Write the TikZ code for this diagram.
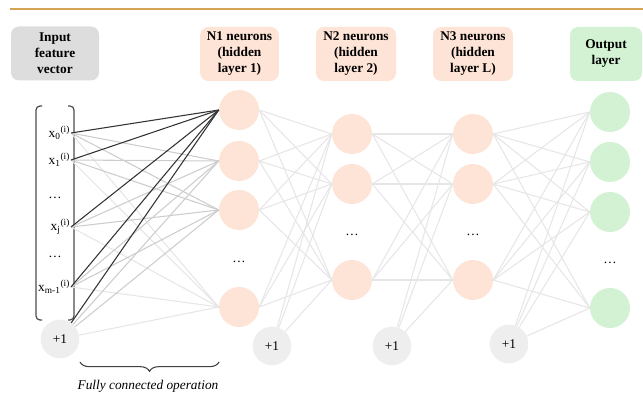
\documentclass[tikz,border=0pt]{standalone}
\usepackage{fontspec}
\setmainfont{Liberation Serif}
\usetikzlibrary{positioning,decorations.pathreplacing}
\definecolor{peach}{RGB}{253,228,214}
\definecolor{mint}{RGB}{211,242,211}
\definecolor{hdrgray}{RGB}{221,221,221}
\definecolor{biasgray}{RGB}{238,238,238}
\definecolor{rulegold}{RGB}{214,163,84}
\definecolor{wmidc}{RGB}{205,205,205}
\definecolor{wpalec}{RGB}{230,230,230}

\begin{document}
\begin{tikzpicture}[x=0.75pt,y=-0.75pt,
    hdr/.style={rounded corners=6pt, align=center, inner sep=0pt, minimum height=40.5pt,
                font=\fontsize{10}{12}\selectfont\bfseries},
    unit/.style={circle, minimum size=30pt, inner sep=0pt},
    bias/.style={circle, fill=biasgray, minimum size=29pt, inner sep=0pt, font=\fontsize{10}{12}\selectfont},
    inlbl/.style={anchor=east, inner sep=0.5pt, font=\fontsize{10}{12}\selectfont},
    dotlbl/.style={inner sep=0pt, font=\fontsize{10}{12}\selectfont},
    wdark/.style={draw=black!80, line width=0.8pt},
    wmid/.style={draw=wmidc, line width=0.8pt},
    wpale/.style={draw=wpalec, line width=0.8pt}]
    \useasboundingbox (0,0) rectangle (643,395);

    % Top rule
    \draw[rulegold, line width=1pt] (10,9) -- (643,9);

    % Header boxes
    \node[hdr, fill=hdrgray, minimum width=66pt] (hin) at (55,53.5) {Input\\feature\\vector};
    \node[hdr, fill=peach, minimum width=59pt] (hl1) at (239.5,54) {N1 neurons\\(hidden\\layer 1)};
    \node[hdr, fill=peach, minimum width=60pt] (hl2) at (356,54) {N2 neurons\\(hidden\\layer 2)};
    \node[hdr, fill=peach, minimum width=60pt] (hl3) at (473,54) {N3 neurons\\(hidden\\layer L)};
    \node[hdr, fill=mint, minimum width=54pt] (hout) at (606,54) {Output\\layer};

    % Input vector
    \draw[black!70, line width=0.9pt, rounded corners=3pt] (42,106) -- (36,106) -- (36,320) -- (42,320);
    \draw[black!70, line width=0.9pt, rounded corners=3pt] (68,106) -- (74,106) -- (74,320) -- (68,320);
    \node[inlbl] (x0) at (71,133) {x\textsubscript{0}\textsuperscript{(i)}};
    \node[inlbl] (x1) at (71,160) {x\textsubscript{1}\textsuperscript{(i)}};
    \node[dotlbl] (xd1) at (55,198) {\dots};
    \node[inlbl] (xj) at (71,227) {x\textsubscript{j}\textsuperscript{(i)}};
    \node[dotlbl] (xd2) at (55,257) {\dots};
    \node[inlbl] (xm) at (71,287) {x\textsubscript{m-1}\textsuperscript{(i)}};
    \node[bias] (b0) at (60,339) {+1};

    % Hidden layer 1
    \node[unit, fill=peach] (h1a) at (239,110) {};
    \node[unit, fill=peach] (h1b) at (239,161) {};
    \node[unit, fill=peach] (h1c) at (239,210) {};
    \node[dotlbl] (h1dots) at (239,262) {\dots};
    \node[unit, fill=peach] (h1d) at (239,307) {};
    \node[bias] (b1) at (272,346) {+1};

    % Hidden layer 2
    \node[unit, fill=peach] (h2a) at (352,134) {};
    \node[unit, fill=peach] (h2b) at (352,184) {};
    \node[dotlbl] (h2dots) at (352,235) {\dots};
    \node[unit, fill=peach] (h2c) at (352,280) {};
    \node[bias] (b2) at (392,346) {+1};

    % Hidden layer L
    \node[unit, fill=peach] (h3a) at (473,134) {};
    \node[unit, fill=peach] (h3b) at (473,184) {};
    \node[dotlbl] (h3dots) at (473,235) {\dots};
    \node[unit, fill=peach] (h3c) at (473,280) {};
    \node[bias] (b3) at (509,344) {+1};

    % Output layer
    \node[unit, fill=mint] (oa) at (610,112) {};
    \node[unit, fill=mint] (ob) at (610,162) {};
    \node[unit, fill=mint] (oc) at (610,212) {};
    \node[dotlbl] (odots) at (610,263) {\dots};
    \node[unit, fill=mint] (od) at (610,308) {};

    % Input -> layer 1
    \foreach \s in {x0.east,x1.east,xj.east,xm.east,b0} {
        \draw[wpale] (\s) -- (h1d.west);
        \foreach \t in {h1b,h1c}
            \draw[wmid] (\s) -- (\t.west);
    }
    \foreach \s in {x0.east,x1.east,xj.east,xm.east,b0}
        \draw[wdark] (\s) -- (h1a.west);

    % Layer 1 -> layer 2
    \foreach \t in {h2a,h2b,h2c} {
        \foreach \s in {h1a,h1b,h1c,h1d}
            \draw[wpale] (\s.east) -- (\t.west);
        \draw[wpale] (b1) -- (\t.west);
    }

    % Layer 2 -> layer L
    \foreach \t in {h3a,h3b,h3c} {
        \foreach \s in {h2a,h2b,h2c}
            \draw[wpale] (\s.east) -- (\t.west);
        \draw[wpale] (b2) -- (\t.west);
    }

    % Layer L -> output
    \foreach \t in {oa,ob,oc,od} {
        \foreach \s in {h3a,h3b,h3c}
            \draw[wpale] (\s.east) -- (\t.west);
        \draw[wpale] (b3) -- (\t.west);
    }

    % Brace
    \draw[black!75, line width=0.8pt, decorate, decoration={brace, mirror, amplitude=7pt}] (80,362) -- (219,362);
    \node[font=\fontsize{10}{12}\selectfont\itshape] (fcop) at (148,386) {Fully connected operation};
\end{tikzpicture}
\end{document}
